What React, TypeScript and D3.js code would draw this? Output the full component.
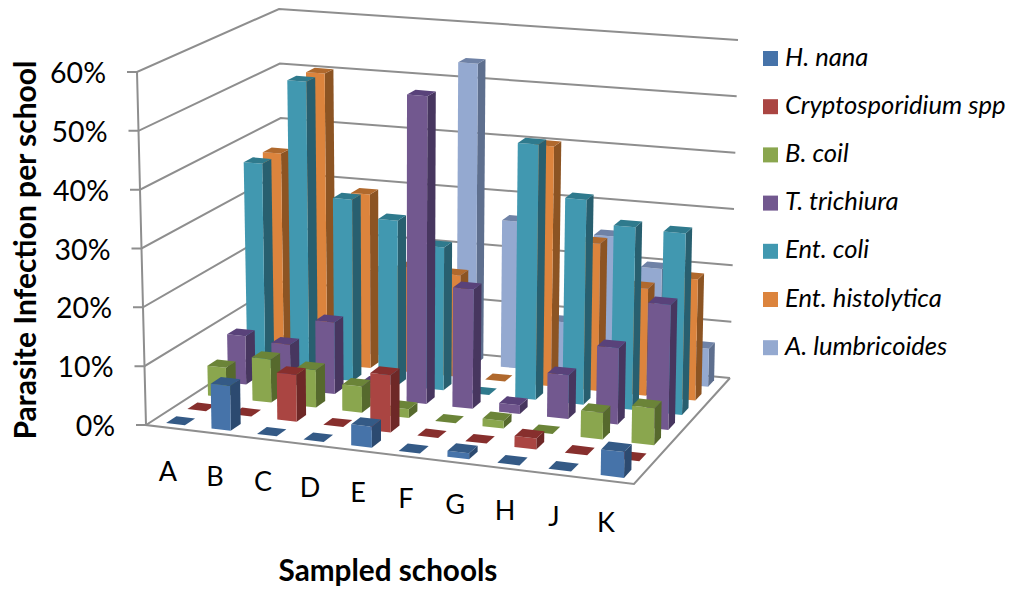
import React from "react";
import * as d3 from "d3";

const categories = ["A", "B", "C", "D", "E", "F", "G", "H", "J", "K"];
const seriesNames = ["H. nana", "Cryptosporidium spp", "B. coil", "T. trichiura", "Ent. coli", "Ent. histolytica", "A. lumbricoides"];
const hNana = [0, 7.6, 0, 0, 3.5, 0, 1, 0, 0, 4.2];
const crypto = [0, 0, 8, 0, 9.7, 0, 0, 1.8, 0, 0];
const bCoil = [5.2, 7.5, 6.5, 4.5, 1.5, 0, 1.3, 0, 4.5, 6.2];
const tTrichiura = [8.5, 7.8, 12.5, 2.5, 53.3, 20.6, 1.5, 7.5, 13, 21.2];
const entColi = [37, 52.2, 32, 29, 25, 0, 44.4, 35.5, 31.5, 31.2];
const entHistolytica = [37, 52, 31, 18.5, 18, 0, 42.2, 25.8, 18.7, 21.1];
const aLumbricoides = [0, 0, 15, 0, 53.9, 26.2, 9, 25, 20, 6.7];
const allSeries = [hNana, crypto, bCoil, tTrichiura, entColi, entHistolytica, aLumbricoides];
const valueTicks = [0, 10, 20, 30, 40, 50, 60];

const frontColors = ["#4673A9", "#AA4542", "#8AA64E", "#72588F", "#4198B0", "#DC843D", "#94A9D0"];
const topColors = ["#345A86", "#872F2D", "#6B8438", "#59427A", "#2F7A8D", "#B0692D", "#6F82A6"];
const sideColors = ["#2C4A70", "#6E2827", "#56692D", "#47365F", "#285F6F", "#8C5423", "#5E6F8E"];

type P = [number, number];
const floorFL: P = [146, 425], floorFR: P = [634, 484], floorBR: P = [730, 378], floorBL: P = [284, 336];
const topFL: P = [137, 72], topFR: P = [640, 114], topBR: P = [738, 40], topBL: P = [279, 9];

function quadMap(p00: P, p10: P, p11: P, p01: P) {
  const [x0, y0] = p00, [x1, y1] = p10, [x2, y2] = p11, [x3, y3] = p01;
  const dx1 = x1 - x2, dx2 = x3 - x2, sx = x0 - x1 + x2 - x3;
  const dy1 = y1 - y2, dy2 = y3 - y2, sy = y0 - y1 + y2 - y3;
  const det = dx1 * dy2 - dx2 * dy1;
  const g = (sx * dy2 - dx2 * sy) / det;
  const h = (dx1 * sy - sx * dy1) / det;
  const a = x1 - x0 + g * x1, b = x3 - x0 + h * x3;
  const d = y1 - y0 + g * y1, e = y3 - y0 + h * y3;
  return (u: number, w: number): P => {
    const q = g * u + h * w + 1;
    return [(a * u + b * w + x0) / q, (d * u + e * w + y0) / q];
  };
}
const floorMap = quadMap(floorFL, floorFR, floorBR, floorBL);
const topMap = quadMap(topFL, topFR, topBR, topBL);
const heightT = d3.scaleLinear().domain([0, 60]).range([0, 1]);
const project = (u: number, w: number, v: number): P => {
  const t = heightT(v);
  const a = floorMap(u, w), b = topMap(u, w);
  return [a[0] + (b[0] - a[0]) * t, a[1] + (b[1] - a[1]) * t];
};

const catScale = d3.scaleBand<string>().domain(categories).range([0, 1]).paddingInner(0.57).paddingOuter(0.285);
const rowScale = d3.scaleBand<string>().domain(seriesNames).range([0, 1]).paddingInner(0.52).paddingOuter(0.26);
// the source's projection is a little flatter along the category axis than a pure homography
const catWarp = d3.scaleLinear().domain([0, 0.15, 0.45, 1]).range([0.003, 0.158, 0.461, 1.002]);
const poly = (pts: P[]) => pts.map((p) => p.map((n) => n.toFixed(1)).join(",")).join(" ");
const line = d3.line();

const FONT = "Lato, Carlito, sans-serif";
const GRID = "#8E8E8E";
const catLabelPos = [[168, 481], [215, 486], [263, 491], [310, 497], [358, 502], [406, 508], [455, 514], [505, 520], [554, 526], [606, 532]];

export default function App() {
  const bars: React.ReactNode[] = [];
  for (let s = seriesNames.length - 1; s >= 0; s--) {
    const w0 = rowScale(seriesNames[s])!, w1 = w0 + rowScale.bandwidth();
    categories.forEach((c, i) => {
      const bw = catScale.bandwidth();
      const uc = catWarp(catScale(c)! + bw / 2);
      const u0 = uc - bw / 2, u1 = uc + bw / 2;
      const v = allSeries[s][i];
      const top = [project(u0, w0, v), project(u1, w0, v), project(u1, w1, v), project(u0, w1, v)];
      bars.push(
        <g key={`${s}-${i}`}>
          {v > 0 && <polygon points={poly([project(u1, w0, 0), project(u1, w1, 0), project(u1, w1, v), project(u1, w0, v)])} fill={sideColors[s]} />}
          {v > 0 && <polygon points={poly([project(u0, w0, 0), project(u1, w0, 0), project(u1, w0, v), project(u0, w0, v)])} fill={frontColors[s]} />}
          <polygon points={poly(top)} fill={topColors[s]} />
        </g>
      );
    });
  }
  return (
    <svg width={1015} height={591} style={{ position: "absolute", left: 0, top: 0, background: "#fff" }} fontFamily={FONT}>
      <polygon points={poly([floorFL, floorFR, floorBR, floorBL])} fill="#fff" />
      {valueTicks.map((t) => {
        const a = project(0, 0, t), b = project(0, 1, t), c = project(1, 1, t);
        return (
          <g key={t}>
            <path d={line([[a[0] - 10, a[1]], a, b, c])!} fill="none" stroke={GRID} strokeWidth={2} />
            <text x={a[0] - 31} y={a[1] + 11} textAnchor="end" fontSize={28.5} fill="#000">{t}%</text>
          </g>
        );
      })}
      <path d={line([project(0, 0, 60), project(0, 0, 0), floorFR, floorBR])!} fill="none" stroke={GRID} strokeWidth={2} />
      {bars}
      {categories.map((c, i) => (
        <text key={c} x={catLabelPos[i][0]} y={catLabelPos[i][1]} textAnchor="middle" fontSize={27} fill="#000">{c}</text>
      ))}
      <text transform="translate(36,250) rotate(-90)" textAnchor="middle" fontSize={30} fontWeight={700} fill="#000">Parasite Infection per school</text>
      <text x={388} y={581} textAnchor="middle" fontSize={29.7} fontWeight={700} fill="#000">Sampled schools</text>
      {seriesNames.map((n, i) => (
        <g key={n}>
          <rect x={763} y={51 + i * 48.2} width={15} height={15} fill={frontColors[i]} />
          <text x={785} y={65.5 + i * 48.2} fontSize={25.6} fontStyle="italic" fill="#000">{n}</text>
        </g>
      ))}
    </svg>
  );
}
